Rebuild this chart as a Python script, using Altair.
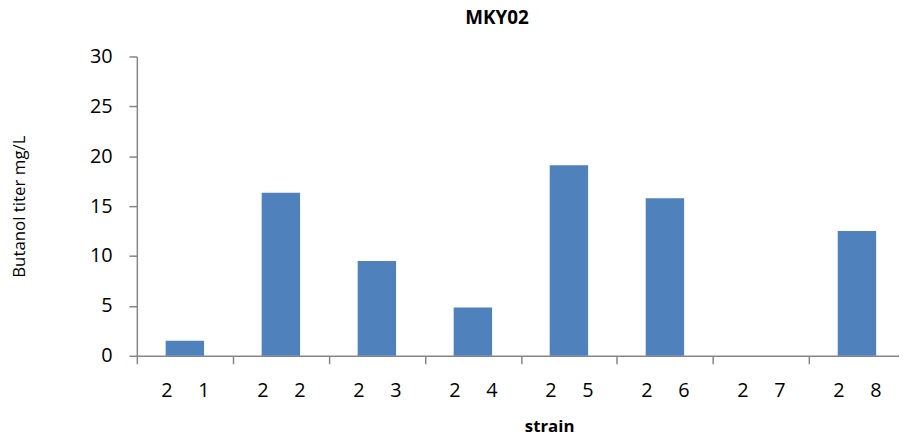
import altair as alt
import pandas as pd

strains = ["2 1", "2 2", "2 3", "2 4", "2 5", "2 6", "2 7", "2 8"]
titers = [1.5, 16.35, 9.5, 4.85, 19.1, 15.8, 0.0, 12.5]
y_ticks = [0, 5, 10, 15, 20, 25, 30]

df = pd.DataFrame({"strain": strains, "titer": titers})

NB = "\u00a0" * 5
FONT = "Open Sans"

bars = alt.Chart(df).mark_bar(
    color="#4F81BD",
    width=alt.RelativeBandSize(0.4)
).encode(
    x=alt.X(
        "strain:N",
        sort=strains,
        scale=alt.Scale(range=[0, 775], paddingInner=0, paddingOuter=0),
        axis=alt.Axis(
            title="strain",
            titleFont=FONT, titleFontSize=17, titleFontWeight="bold",
            titleColor="#000000",
            titleX=416, titleY=71, titleBaseline="middle",
            labelAngle=0, labelFont=FONT, labelFontSize=20, labelColor="#000000",
            labelExpr=f"replace(datum.label, ' ', '{NB}')",
            labelPadding=17,
            tickBand="extent", tickSize=8, tickColor="#868686",
            domainColor="#868686", domainWidth=1.5, tickWidth=1.5,
            grid=False,
        ),
    ),
    y=alt.Y(
        "titer:Q",
        scale=alt.Scale(domain=[0, 30], nice=False),
        axis=alt.Axis(
            title="Butanol titer mg/L",
            titleFont=FONT, titleFontSize=17, titleFontWeight="normal",
            titleColor="#000000",
            titleX=-118, titleY=151, titleBaseline="middle", titleAngle=-90,
            values=y_ticks, labelFont=FONT, labelFontSize=20, labelColor="#000000",
            labelPadding=17, tickSize=8, tickColor="#868686", tickWidth=1.5,
            domainColor="#868686", domainWidth=1.5, grid=False,
        ),
    ),
)

chart = bars.properties(
    width=769,
    height=302,
    autosize=alt.AutoSizeParams(type="none"),
    padding={"left": 130, "top": 47, "right": 0, "bottom": 79},
    title=alt.TitleParams(
        "MKY02", font=FONT, fontSize=19, fontWeight="bold", color="#000000",
        anchor="middle", frame="group", dx=-21, offset=4, baseline="alphabetic",
    ),
).configure_view(stroke=None)

chart.save("out.html", embed_options={"renderer": "svg", "actions": False})
